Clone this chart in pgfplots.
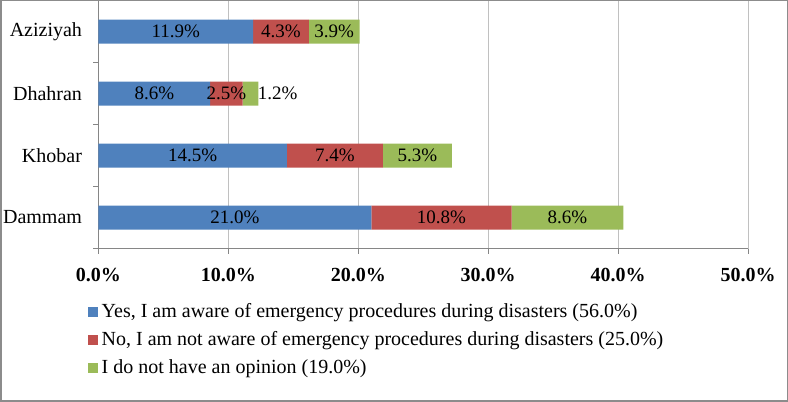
\documentclass[border=0pt]{standalone}
\usepackage{fontspec}
\setmainfont{Liberation Serif}
\usepackage{pgfplots}
\pgfplotsset{compat=1.18}

\definecolor{cyes}{HTML}{4F81BD}
\definecolor{cno}{HTML}{C0504D}
\definecolor{cnone}{HTML}{9BBB59}
\definecolor{gridc}{HTML}{C0C0C0}
\definecolor{axisc}{HTML}{868686}
\definecolor{framec}{HTML}{8C8C8C}

% y: 0 Dammam, 1 Khobar, 2 Dhahran, 3 Aziziyah
\pgfplotstableread{
y yes no none
0 21.0 10.8 8.6
1 14.5 7.4  5.3
2 8.6  2.5  1.2
3 11.9 4.3  3.9
}\datatab

% label positions (middle of each segment)
\pgfplotstableread{
x y lab
5.95  3 11.9\%
14.05 3 4.3\%
18.15 3 3.9\%
4.3   2 8.6\%
9.85  2 2.5\%
13.8  2 1.2\%
7.25  1 14.5\%
18.2  1 7.4\%
24.55 1 5.3\%
10.5  0 21.0\%
26.4  0 10.8\%
36.1  0 8.6\%
}\labtab

\pgfplotsset{
  common/.style={
    scale only axis,
    width=649.5pt, height=248pt,
    at={(98.5pt,153.5pt)}, anchor=south west,
    xmin=0, xmax=50, ymin=-0.5, ymax=3.5,
  }
}

\begin{document}
\fontsize{19}{22}\selectfont
\begin{tikzpicture}
\useasboundingbox (0,0) rectangle (788pt,402pt);
\begin{axis}[
  common,
  xbar stacked,
  bar width=24pt,
  axis lines*=left,
  axis line style={axisc, line width=0.8pt},
  xtick={0,10,...,50},
  xticklabels={0.0\%,10.0\%,20.0\%,30.0\%,40.0\%,50.0\%},
  xticklabel style={font=\fontsize{20}{23}\selectfont\bfseries, yshift=-8pt},
  xmajorgrids,
  grid style={gridc, line width=0.8pt},
  ytick={0,1,2,3},
  yticklabels={Dammam,Khobar,Dhahran,Aziziyah},
  yticklabel style={font=\fontsize{20}{23}\selectfont, xshift=-5pt},
  minor ytick={-0.5,0.5,1.5,2.5},
  tick align=outside,
  major tick length=5pt,
  minor tick length=5pt,
  every tick/.style={axisc, line width=0.8pt},
  major y tick style={draw=none},
  legend style={
    at={(0,0)}, anchor=north west, xshift=-11pt, yshift=-53pt,
    draw=none, fill=none, inner sep=0pt, row sep=7pt,
    cells={anchor=west}, font=\fontsize{20}{23}\selectfont,
  },
  legend cell align=left,
  legend image code/.code={\fill[#1] (0pt,-5pt) rectangle (10pt,5pt); \path (12pt,0pt);},
]
\addplot[fill=cyes, draw=none] table[x=yes, y=y] {\datatab};
\addlegendentry{Yes, I am aware of emergency procedures during disasters (56.0\%)}
\addplot[fill=cno, draw=none] table[x=no, y=y] {\datatab};
\addlegendentry{No, I am not aware of emergency procedures during disasters (25.0\%)}
\addplot[fill=cnone, draw=none] table[x=none, y=y] {\datatab};
\addlegendentry{I do not have an opinion (19.0\%)}
\end{axis}
\begin{axis}[
  common,
  hide axis,
]
\addplot[only marks, mark=none, point meta=explicit symbolic,
  nodes near coords, nodes near coords style={anchor=center, inner sep=0pt}]
  table[x=x, y=y, meta=lab] {\labtab};
\end{axis}
\draw[framec, line width=1.5pt] (0.75pt,0.75pt) rectangle (787.25pt,401.25pt);
\end{tikzpicture}
\end{document}
